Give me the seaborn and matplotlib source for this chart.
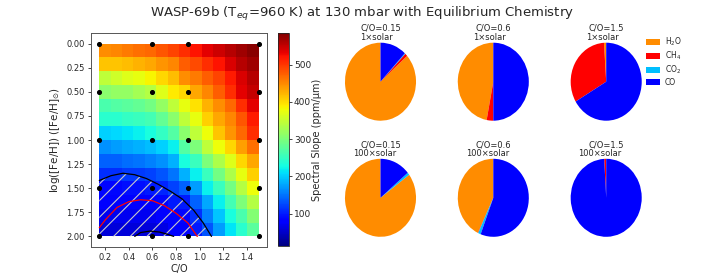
import numpy as np
import matplotlib
matplotlib.use("Agg")
import matplotlib.pyplot as plt
import seaborn as sns

# ---------------------------------------------------------------
# Data
# ---------------------------------------------------------------
co_grid = [0.15, 1.5]            # C/O range of the slope grid
feh_grid = [0.0, 2.0]            # log([Fe/H]) range of the grid

# spectral slope (ppm/um), rows = metallicity 0 -> 2, cols = C/O low -> high
slope = [
    [448, 453, 459, 465, 471, 482, 493, 505, 522, 534, 545, 556, 568, 579],
    [413, 413, 419, 425, 431, 442, 453, 476, 488, 505, 522, 539, 556, 568],
    [345, 356, 368, 373, 385, 402, 419, 448, 459, 476, 493, 516, 539, 556],
    [310, 316, 316, 328, 339, 368, 391, 402, 431, 453, 476, 505, 534, 551],
    [265, 270, 276, 282, 293, 316, 345, 373, 396, 425, 448, 471, 505, 534],
    [242, 242, 248, 253, 259, 282, 310, 345, 373, 408, 431, 453, 482, 516],
    [202, 207, 213, 219, 230, 248, 270, 310, 345, 379, 413, 442, 471, 505],
    [167, 173, 179, 185, 190, 202, 219, 270, 299, 345, 379, 402, 436, 465],
    [139, 139, 145, 150, 156, 167, 185, 230, 253, 299, 333, 368, 402, 431],
    [110, 110, 116, 116, 122, 133, 150, 185, 219, 253, 293, 333, 373, 408],
    [87, 87, 93, 93, 99, 105, 122, 139, 173, 219, 253, 293, 339, 379],
    [82, 82, 82, 82, 82, 87, 99, 99, 139, 179, 219, 259, 299, 339],
    [70, 70, 70, 70, 70, 76, 82, 87, 110, 156, 196, 230, 265, 305],
    [59, 59, 59, 59, 59, 64, 76, 82, 99, 133, 173, 213, 242, 276],
]

# model points
model_co = [0.15, 0.6, 0.9, 1.5]
model_feh = [0.0, 0.5, 1.0, 1.5, 2.0]

# hatched (excluded) region boundary
excl_x = [0.15, 0.25, 0.35, 0.45, 0.55, 0.65, 0.75, 0.85, 0.95, 1.03, 1.10]
excl_y = [1.42, 1.37, 1.345, 1.36, 1.40, 1.46, 1.53, 1.61, 1.73, 1.86, 2.0]
# red contour
red_x = [0.15, 0.2, 0.3, 0.4, 0.5, 0.6, 0.7, 0.8, 0.9, 0.98]
red_y = [1.91, 1.83, 1.70, 1.64, 1.62, 1.63, 1.68, 1.76, 1.86, 2.0]
# small black contour at the bottom
inner_x = [0.45, 0.5, 0.58, 0.66, 0.72, 0.78]
inner_y = [2.0, 1.96, 1.945, 1.955, 1.975, 2.0]

# pie charts: abundances H2O, CH4, CO2, CO
species = ["H$_2$O", "CH$_4$", "CO$_2$", "CO"]
species_colors = ["darkorange", "red", "deepskyblue", "blue"]
pie_co = ["0.15", "0.6", "1.5"]
pie_met = ["1", "100"]
pie_fracs = {
    ("1", "0.15"): [0.865, 0.012, 0.003, 0.12],
    ("1", "0.6"): [0.47, 0.03, 0.0, 0.50],
    ("1", "1.5"): [0.01, 0.325, 0.0, 0.665],
    ("100", "0.15"): [0.85, 0.001, 0.01, 0.139],
    ("100", "0.6"): [0.428, 0.002, 0.012, 0.558],
    ("100", "1.5"): [0.001, 0.008, 0.0, 0.991],
}

# ---------------------------------------------------------------
# Figure
# ---------------------------------------------------------------
sns.set_style("ticks")
plt.rcParams["font.family"] = ["DejaVu Sans"]
plt.rcParams["hatch.linewidth"] = 0.8

W, H = 723, 277
fig = plt.figure(figsize=(W / 100, H / 100), dpi=100)


def px_axes(left, top, width, height):
    return fig.add_axes([left / W, 1 - (top + height) / H, width / W, height / H])


# --- heat map ---
ax = px_axes(91, 33, 176, 214)
arr = np.array(slope)
xe = np.linspace(co_grid[0], co_grid[1], arr.shape[1] + 1)
ye = np.linspace(feh_grid[0], feh_grid[1], arr.shape[0] + 1)
mesh = ax.pcolormesh(xe, ye, arr, cmap="jet", vmin=13, vmax=585)

ax.fill_between(excl_x, excl_y, 2.0, facecolor="none", edgecolor="#c8c8c8",
                hatch="//", linewidth=0)
ax.plot(excl_x, excl_y, color="black", lw=0.9)
ax.plot(red_x, red_y, color="red", lw=0.9)
ax.plot(inner_x, inner_y, color="black", lw=0.9)

gx, gy = np.meshgrid(model_co, model_feh)
ax.scatter(gx.ravel(), gy.ravel(), s=7, color="black", zorder=5, clip_on=False)

ax.set_xlim(0.08, 1.57)
ax.set_ylim(2.11, -0.11)
ax.set_xticks([0.2, 0.4, 0.6, 0.8, 1.0, 1.2, 1.4])
ax.set_yticks([0.0, 0.25, 0.5, 0.75, 1.0, 1.25, 1.5, 1.75, 2.0])
ax.set_yticklabels([f"{v:.2f}" for v in ax.get_yticks()])
ax.tick_params(labelsize=6, length=2.5, width=0.6, pad=2)
ax.set_xlabel("C/O", fontsize=7, labelpad=1)
ax.set_ylabel("log([Fe/H]) ([Fe/H]$_{\\odot}$)", fontsize=7.5, labelpad=3)
for s in ax.spines.values():
    s.set_linewidth(0.7)
    s.set_color("#555555")

# --- colour bar ---
cax = px_axes(278, 33, 11, 213)
cb = fig.colorbar(mesh, cax=cax)
cb.set_ticks([100, 200, 300, 400, 500])
cb.ax.tick_params(labelsize=6.5, length=2, width=0.6, pad=1.5)
cb.set_label("Spectral Slope (ppm/\u03bcm)", fontsize=7, labelpad=1)
cb.outline.set_linewidth(0.6)

# --- pies ---
centers_x = [380.5, 493.3, 606.2]
centers_y = {"1": 81.7, "100": 197.8}
label_y = {"1": (28, 37), "100": (144.5, 153.3)}
shift = {"1": -4, "100": -6}
wedges_for_legend = None
for met in pie_met:
    for co, cx in zip(pie_co, centers_x):
        cy = centers_y[met]
        pax = px_axes(cx - 44.4, cy - 48.75, 88.8, 97.5)
        wedges, _ = pax.pie(pie_fracs[(met, co)], colors=species_colors,
                            startangle=90, counterclock=True,
                            wedgeprops=dict(linewidth=0))
        pax.set_aspect("auto")
        pax.set_xlim(-1.25, 1.25)
        pax.set_ylim(-1.25, 1.25)
        if wedges_for_legend is None:
            wedges_for_legend = wedges
        y1, y2 = label_y[met]
        fig.text(cx / W, 1 - y1 / H, f"C/O={co}", fontsize=6,
                 ha="center", va="center")
        fig.text((cx + shift[met]) / W, 1 - y2 / H, f"{met}\u00d7solar",
                 fontsize=6, ha="center", va="center")

fig.legend(wedges_for_legend, species, loc="upper left",
           bbox_to_anchor=(641 / W, 1 - 31 / H), frameon=False, fontsize=5.5,
           handlelength=1.9, handleheight=0.7, labelspacing=0.2,
           handletextpad=0.6, borderaxespad=0.2)

fig.suptitle("WASP-69b (T$_{eq}$=960 K) at 130 mbar with Equilibrium Chemistry",
             fontsize=9.5, x=0.5, y=1 - 14 / H, va="center")

fig.savefig("out.png", dpi=100)
